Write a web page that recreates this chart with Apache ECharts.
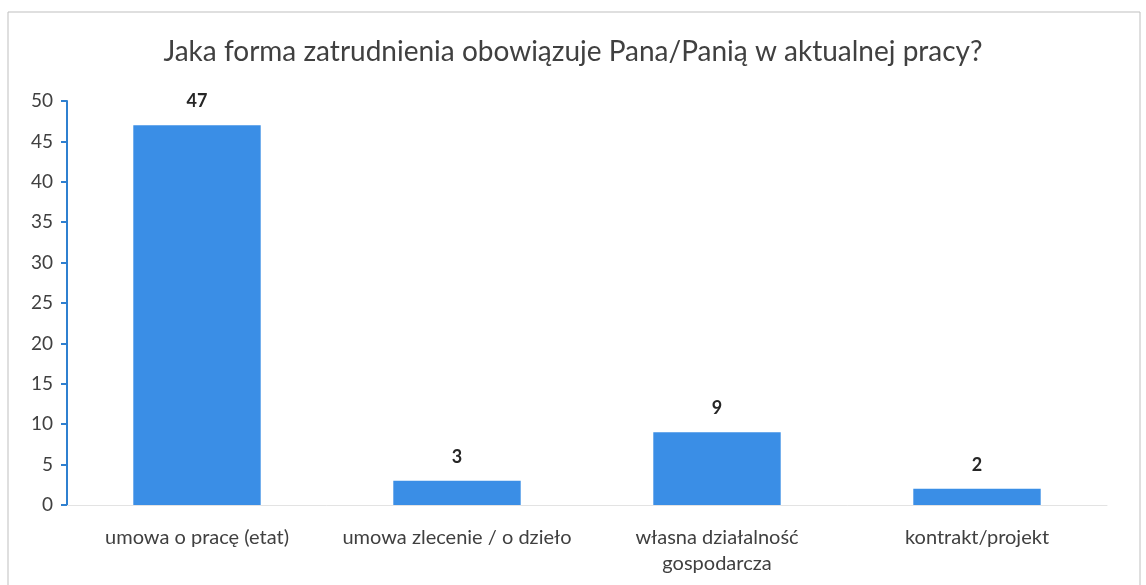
<!DOCTYPE html>
<html>
<head>
<meta charset="utf-8">
<script src="https://cdn.jsdelivr.net/npm/echarts@6/dist/echarts.min.js"></script>
<style>
  html, body { margin: 0; padding: 0; background: #fff; }
  #chart { width: 1146px; height: 585px; }
</style>
</head>
<body>
<div id="chart"></div>
<script>
// data
const categories = ['umowa o pracę (etat)', 'umowa zlecenie / o dzieło', 'własna działalność\ngospodarcza', 'kontrakt/projekt'];
const counts = [47, 3, 9, 2];
const yTicks = { min: 0, max: 50, step: 5 };

const chart = echarts.init(document.getElementById('chart'));
chart.setOption({
    textStyle: { fontFamily: 'Lato, "Open Sans", sans-serif' },
    graphic: [{
        type: 'rect',
        shape: { x: 8, y: 12, width: 1132, height: 580 },
        style: { fill: 'none', stroke: '#bfbfbf', lineWidth: 1 }
    }],
    title: {
        text: 'Jaka forma zatrudnienia obowiązuje Pana/Panią w aktualnej pracy?',
        left: 'center',
        top: 33,
        textStyle: { fontSize: 28, fontWeight: 'normal', color: '#404040', fontFamily: 'Lato, sans-serif' }
    },
    grid: { left: 67, right: 39, top: 101, bottom: 80 },
    xAxis: {
        type: 'category',
        data: categories,
        axisLine: { lineStyle: { color: '#e3e3e3' } },
        axisTick: { show: false },
        axisLabel: { interval: 0, color: '#404040', fontSize: 20, margin: 20, lineHeight: 26 }
    },
    yAxis: {
        type: 'value',
        min: yTicks.min,
        max: yTicks.max,
        interval: yTicks.step,
        splitLine: { show: false },
        axisLine: { show: true, lineStyle: { color: '#2f80d0', width: 2 } },
        axisTick: { show: true, length: 6, lineStyle: { color: '#2f80d0', width: 2 } },
        axisLabel: { color: '#404040', fontSize: 19, margin: 14 }
    },
    series: [{
        type: 'bar',
        data: counts,
        barWidth: '49%',
        itemStyle: { color: '#3a8ee6' },
        label: {
            show: true,
            position: 'top',
            distance: 15,
            color: '#262626',
            fontWeight: 'bold',
            fontSize: 18
        }
    }]
});
</script>
</body>
</html>
